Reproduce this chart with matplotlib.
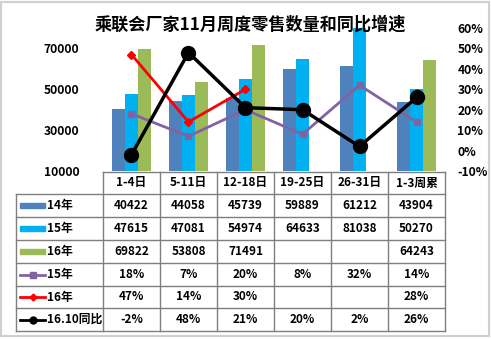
import matplotlib
matplotlib.use("Agg")
import matplotlib.pyplot as plt
from matplotlib.patches import Rectangle
from matplotlib.lines import Line2D
import numpy as np

plt.rcParams['font.family'] = ['Noto Sans CJK SC', 'DejaVu Sans']

title = "乘联会厂家11月周度零售数量和同比增速"
categories = ["1-4日", "5-11日", "12-18日", "19-25日", "26-31日", "1-3周累"]
sales14 = [40422, 44058, 45739, 59889, 61212, 43904]
sales15 = [47615, 47081, 54974, 64633, 81038, 50270]
sales16 = [69822, 53808, 71491, None, None, 64243]
yoy15 = [18, 7, 20, 8, 32, 14]
yoy16 = [47, 14, 30, None, None, 28]
yoy1610 = [-2, 48, 21, 20, 2, 26]
left_ticks = [10000, 30000, 50000, 70000]
right_ticks = [-10, 0, 10, 20, 30, 40, 50, 60]

c14 = '#4F81BD'
c15 = '#00B0F0'
c16 = '#9BBB59'
cp = '#8064A2'
cr = '#FF0000'
ck = '#000000'

W, H = 491, 339
fig = plt.figure(figsize=(W/100, H/100), dpi=100)

def fx(px):
    return px / W

def fy(py):
    return 1 - py / H

ax_l, ax_r, ax_t, ax_b = 103, 445, 28, 171
ax = fig.add_axes([fx(ax_l), fy(ax_b), fx(ax_r - ax_l), (ax_b - ax_t) / H])
ax2 = ax.twinx()

x = np.arange(len(categories))
bw = 0.228
def arr(v):
    return np.array([np.nan if a is None else a for a in v], dtype=float)

base = 10000
ax.bar(x - bw, arr(sales14) - base, bw, bottom=base, color=c14, zorder=2)
ax.bar(x, arr(sales15) - base, bw, bottom=base, color=c15, zorder=2)
ax.bar(x + bw, arr(sales16) - base, bw, bottom=base, color=c16, zorder=2)
ax.set_xlim(-0.5, len(categories) - 0.5)
ax.set_ylim(10000, 80000)
ax.set_yticks(left_ticks)
ax.set_xticks([])

ax2.plot(x, arr(yoy15), color=cp, lw=2, marker='s', ms=5, zorder=3)
ax2.plot(x, arr(yoy16), color=cr, lw=2, marker='D', ms=4, zorder=4)
ax2.plot(x, arr(yoy1610), color=ck, lw=2.5, marker='o', ms=10, zorder=5)
ax2.set_ylim(-10, 60)
ax2.set_yticks(right_ticks)
ax2.set_yticklabels([f"{t}%" for t in right_ticks])

for a in (ax, ax2):
    for s in a.spines.values():
        s.set_visible(False)
    a.tick_params(length=0)
    a.patch.set_visible(False)
ax.tick_params(axis='y', pad=17)
ax2.tick_params(axis='y', pad=9)
for lab in ax.get_yticklabels() + ax2.get_yticklabels():
    lab.set_fontweight('bold')
    lab.set_fontsize(8.7)

# title
fig.text(fx(250), fy(25), title, ha='center', va='center', fontsize=12.3,
         fontweight='bold', zorder=10)

# table
gc = '#7f7f7f'
rows_y = [172, 194, 217, 240, 263, 286, 308, 331]
col_x = [ax_l + (ax_r - ax_l) * i / len(categories) for i in range(len(categories) + 1)]
leg_l = 16

def hline(x0, x1, y):
    fig.add_artist(Line2D([fx(x0), fx(x1)], [fy(y), fy(y)], color=gc, lw=1))

def vline(xp, y0, y1):
    fig.add_artist(Line2D([fx(xp), fx(xp)], [fy(y0), fy(y1)], color=gc, lw=1))

hline(ax_l, ax_r, rows_y[0])
for yy in rows_y[1:]:
    hline(leg_l, ax_r, yy)
for xp in col_x:
    vline(xp, rows_y[0], rows_y[-1])
vline(leg_l, rows_y[1], rows_y[-1])

tk = dict(ha='center', va='center', fontsize=8.5, fontweight='bold')
for i, c in enumerate(categories):
    xc = (col_x[i] + col_x[i + 1]) / 2
    fig.text(fx(xc), fy((rows_y[0] + rows_y[1]) / 2), c, **tk)

row_data = [
    ("14年", sales14, 'bar', c14, None),
    ("15年", sales15, 'bar', c15, None),
    ("16年", sales16, 'bar', c16, None),
    ("15年", yoy15, 'line', cp, ('s', 5, 2)),
    ("16年", yoy16, 'line', cr, ('D', 3.5, 2)),
    ("16.10同比", yoy1610, 'line', ck, ('o', 5, 2)),
]
for r, (lab, vals, kind, col, mk) in enumerate(row_data):
    y0, y1 = rows_y[r + 1], rows_y[r + 2]
    yc = (y0 + y1) / 2
    if kind == 'bar':
        fig.add_artist(Rectangle((fx(20), fy(yc + 2.5)), fx(25), 5 / H, color=col))
    else:
        fig.add_artist(Line2D([fx(20), fx(45)], [fy(yc), fy(yc)], color=col,
                              lw=mk[2]))
        fig.add_artist(Line2D([fx(32.5)], [fy(yc)], color=col, marker=mk[0],
                              ms=mk[1], lw=0))
    fig.text(fx(47), fy(yc), lab, ha='left', va='center', fontsize=8.5,
             fontweight='bold')
    for i, v in enumerate(vals):
        if v is None:
            continue
        txt = f"{v}%" if kind == 'line' else f"{v}"
        xc = (col_x[i] + col_x[i + 1]) / 2
        fig.text(fx(xc), fy(yc), txt, **tk)

# figure border
fig.add_artist(Rectangle((fx(1), fy(336)), fx(488), 334 / H, fill=False,
                         edgecolor='#d0d0d0', lw=1.5))

fig.savefig("out.png", dpi=100)
